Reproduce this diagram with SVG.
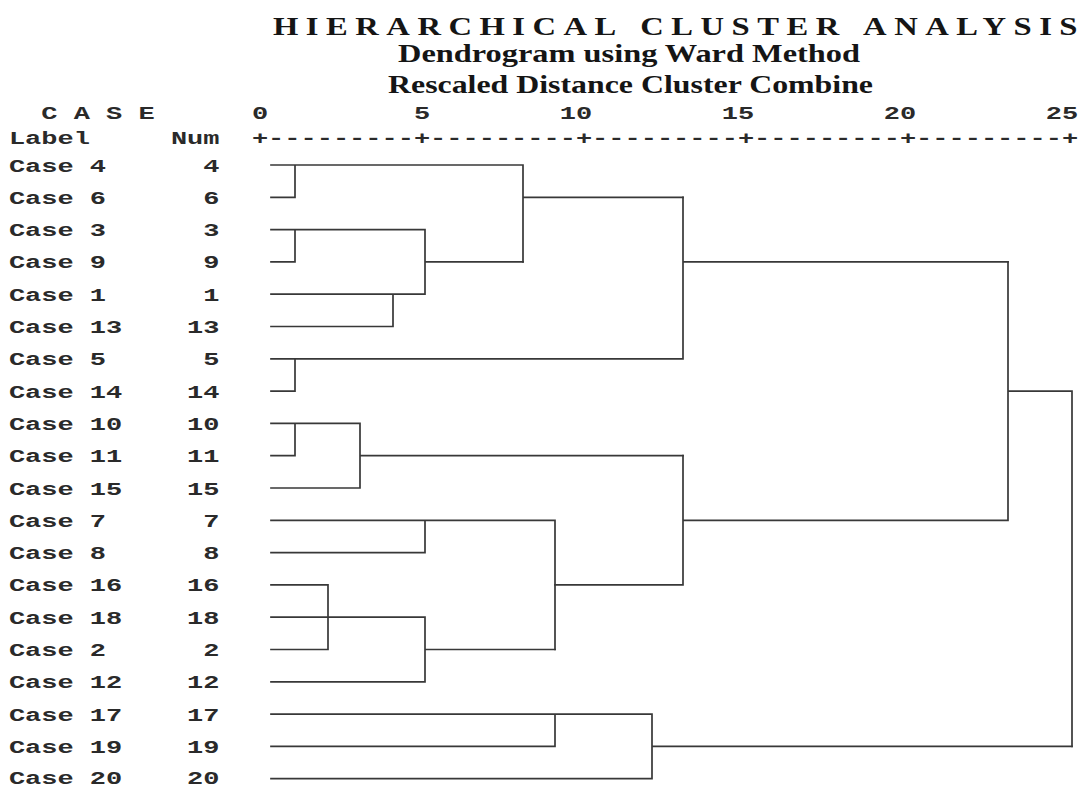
<svg xmlns="http://www.w3.org/2000/svg" width="1082" height="787" viewBox="0 0 1082 787">
<style>
.bg{fill:#ffffff}
.ttl{font-family:"Liberation Serif","Times New Roman",serif;font-weight:bold;fill:#151515}
.mono{font-family:"Liberation Mono","DejaVu Sans Mono",monospace;font-weight:bold;font-size:19px;fill:#2a2a2a}
.ln{fill:none;stroke:#383838;stroke-width:1.7;stroke-linecap:square}
</style>
<rect class="bg" x="0" y="0" width="1082" height="787"/>
<g id="title">
<text class="ttl" x="273" y="35" font-size="26" letter-spacing="6" word-spacing="2" textLength="812" lengthAdjust="spacingAndGlyphs">HIERARCHICAL CLUSTER ANALYSIS</text>
<text class="ttl" x="398" y="62" font-size="25" textLength="462" lengthAdjust="spacingAndGlyphs">Dendrogram using Ward Method</text>
<text class="ttl" x="388" y="93" font-size="25" textLength="485" lengthAdjust="spacingAndGlyphs">Rescaled Distance Cluster Combine</text>
</g>
<g id="header">
<text class="mono" x="41.3" y="119" textLength="113.4" lengthAdjust="spacingAndGlyphs">C A S E</text>
<text class="mono" x="8.9" y="143.5" textLength="81" lengthAdjust="spacingAndGlyphs">Label</text>
<text class="mono" x="170.9" y="143.5" textLength="48.6" lengthAdjust="spacingAndGlyphs">Num</text>
</g>
<g id="axis">
<text class="mono" x="251.9" y="119" textLength="16.2" lengthAdjust="spacingAndGlyphs">0</text>
<text class="mono" x="413.9" y="119" textLength="16.2" lengthAdjust="spacingAndGlyphs">5</text>
<text class="mono" x="559.7" y="119" textLength="32.4" lengthAdjust="spacingAndGlyphs">10</text>
<text class="mono" x="721.7" y="119" textLength="32.4" lengthAdjust="spacingAndGlyphs">15</text>
<text class="mono" x="883.7" y="119" textLength="32.4" lengthAdjust="spacingAndGlyphs">20</text>
<text class="mono" x="1045.7" y="119" textLength="32.4" lengthAdjust="spacingAndGlyphs">25</text>
<text class="mono" x="251.9" y="143.5" textLength="826.2" lengthAdjust="spacingAndGlyphs">+---------+---------+---------+---------+---------+</text>
</g>
<g id="case-4"><text class="mono" x="8.9" y="171.5" textLength="97.2" lengthAdjust="spacingAndGlyphs">Case 4</text><text class="mono" x="203.3" y="171.5" textLength="16.2" lengthAdjust="spacingAndGlyphs">4</text></g>
<g id="case-6"><text class="mono" x="8.9" y="203.8" textLength="97.2" lengthAdjust="spacingAndGlyphs">Case 6</text><text class="mono" x="203.3" y="203.8" textLength="16.2" lengthAdjust="spacingAndGlyphs">6</text></g>
<g id="case-3"><text class="mono" x="8.9" y="236.1" textLength="97.2" lengthAdjust="spacingAndGlyphs">Case 3</text><text class="mono" x="203.3" y="236.1" textLength="16.2" lengthAdjust="spacingAndGlyphs">3</text></g>
<g id="case-9"><text class="mono" x="8.9" y="268.4" textLength="97.2" lengthAdjust="spacingAndGlyphs">Case 9</text><text class="mono" x="203.3" y="268.4" textLength="16.2" lengthAdjust="spacingAndGlyphs">9</text></g>
<g id="case-1"><text class="mono" x="8.9" y="300.7" textLength="97.2" lengthAdjust="spacingAndGlyphs">Case 1</text><text class="mono" x="203.3" y="300.7" textLength="16.2" lengthAdjust="spacingAndGlyphs">1</text></g>
<g id="case-13"><text class="mono" x="8.9" y="333" textLength="113.4" lengthAdjust="spacingAndGlyphs">Case 13</text><text class="mono" x="187.1" y="333" textLength="32.4" lengthAdjust="spacingAndGlyphs">13</text></g>
<g id="case-5"><text class="mono" x="8.9" y="365.3" textLength="97.2" lengthAdjust="spacingAndGlyphs">Case 5</text><text class="mono" x="203.3" y="365.3" textLength="16.2" lengthAdjust="spacingAndGlyphs">5</text></g>
<g id="case-14"><text class="mono" x="8.9" y="397.6" textLength="113.4" lengthAdjust="spacingAndGlyphs">Case 14</text><text class="mono" x="187.1" y="397.6" textLength="32.4" lengthAdjust="spacingAndGlyphs">14</text></g>
<g id="case-10"><text class="mono" x="8.9" y="429.9" textLength="113.4" lengthAdjust="spacingAndGlyphs">Case 10</text><text class="mono" x="187.1" y="429.9" textLength="32.4" lengthAdjust="spacingAndGlyphs">10</text></g>
<g id="case-11"><text class="mono" x="8.9" y="462.2" textLength="113.4" lengthAdjust="spacingAndGlyphs">Case 11</text><text class="mono" x="187.1" y="462.2" textLength="32.4" lengthAdjust="spacingAndGlyphs">11</text></g>
<g id="case-15"><text class="mono" x="8.9" y="494.5" textLength="113.4" lengthAdjust="spacingAndGlyphs">Case 15</text><text class="mono" x="187.1" y="494.5" textLength="32.4" lengthAdjust="spacingAndGlyphs">15</text></g>
<g id="case-7"><text class="mono" x="8.9" y="526.8" textLength="97.2" lengthAdjust="spacingAndGlyphs">Case 7</text><text class="mono" x="203.3" y="526.8" textLength="16.2" lengthAdjust="spacingAndGlyphs">7</text></g>
<g id="case-8"><text class="mono" x="8.9" y="559.1" textLength="97.2" lengthAdjust="spacingAndGlyphs">Case 8</text><text class="mono" x="203.3" y="559.1" textLength="16.2" lengthAdjust="spacingAndGlyphs">8</text></g>
<g id="case-16"><text class="mono" x="8.9" y="591.4" textLength="113.4" lengthAdjust="spacingAndGlyphs">Case 16</text><text class="mono" x="187.1" y="591.4" textLength="32.4" lengthAdjust="spacingAndGlyphs">16</text></g>
<g id="case-18"><text class="mono" x="8.9" y="623.7" textLength="113.4" lengthAdjust="spacingAndGlyphs">Case 18</text><text class="mono" x="187.1" y="623.7" textLength="32.4" lengthAdjust="spacingAndGlyphs">18</text></g>
<g id="case-2"><text class="mono" x="8.9" y="656" textLength="97.2" lengthAdjust="spacingAndGlyphs">Case 2</text><text class="mono" x="203.3" y="656" textLength="16.2" lengthAdjust="spacingAndGlyphs">2</text></g>
<g id="case-12"><text class="mono" x="8.9" y="688.3" textLength="113.4" lengthAdjust="spacingAndGlyphs">Case 12</text><text class="mono" x="187.1" y="688.3" textLength="32.4" lengthAdjust="spacingAndGlyphs">12</text></g>
<g id="case-17"><text class="mono" x="8.9" y="720.6" textLength="113.4" lengthAdjust="spacingAndGlyphs">Case 17</text><text class="mono" x="187.1" y="720.6" textLength="32.4" lengthAdjust="spacingAndGlyphs">17</text></g>
<g id="case-19"><text class="mono" x="8.9" y="752.9" textLength="113.4" lengthAdjust="spacingAndGlyphs">Case 19</text><text class="mono" x="187.1" y="752.9" textLength="32.4" lengthAdjust="spacingAndGlyphs">19</text></g>
<g id="case-20"><text class="mono" x="8.9" y="784" textLength="113.4" lengthAdjust="spacingAndGlyphs">Case 20</text><text class="mono" x="187.1" y="784" textLength="32.4" lengthAdjust="spacingAndGlyphs">20</text></g>
<g id="connectors" class="ln">
<path d="M271 165H523M295 165V197.3M271 197.3H295M523 165V261.9M523 197.3H683"/>
<path d="M271 229.6H425M295 229.6V261.9M271 261.9H295M425 261.9H523M425 229.6V294.2M271 294.2H425M393 294.2V326.5M271 326.5H393"/>
<path d="M271 358.8H683M295 358.8V391.1M271 391.1H295M683 197.3V358.8M683 261.9H1008"/>
<path d="M271 423.4H360M295 423.4V455.7M271 455.7H295M360 455.7H683M360 423.4V488M271 488H360"/>
<path d="M271 520.3H555M425 520.3V552.6M271 552.6H425M555 520.3V649.5"/>
<path d="M271 584.9H328M328 584.9V649.5M271 617.2H425M271 649.5H328M425 649.5H555M425 617.2V681.8M271 681.8H425"/>
<path d="M555 584.9H683M683 455.7V584.9M683 520.3H1008M1008 261.9V520.3M1008 391.1H1072M1072 391.1V746.4"/>
<path d="M271 714.1H652M555 714.1V746.4M271 746.4H555M652 746.4H1072M652 714.1V778.7M271 778.7H652"/>
</g>
</svg>
